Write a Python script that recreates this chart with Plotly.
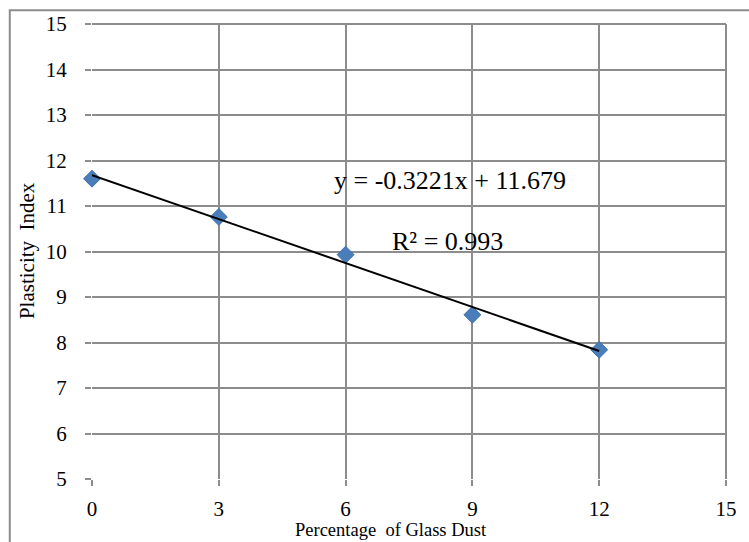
import plotly.graph_objects as go

# Plasticity index versus glass dust content
glass_dust = [0, 3, 6, 9, 12]
plasticity_index = [11.6, 10.76, 9.93, 8.61, 7.84]

# Linear trendline coefficients
slope = -0.3221
intercept = 11.679
r_squared = 0.993

x_ticks = [0, 3, 6, 9, 12, 15]
y_ticks = [5, 6, 7, 8, 9, 10, 11, 12, 13, 14, 15]

trend_x = [min(glass_dust), max(glass_dust)]
trend_y = [slope * x + intercept for x in trend_x]

FONT = "Liberation Serif, Times New Roman, serif"
GRID = "#8c8c8c"

fig = go.Figure()

fig.add_trace(go.Scatter(
    x=glass_dust, y=plasticity_index, mode="markers",
    marker=dict(symbol="diamond", size=13, color="#4a7ebb",
                line=dict(width=1, color="#3e6ea8")),
    showlegend=False, cliponaxis=False,
))

# trendline drawn above the markers
fig.add_trace(go.Scatter(
    x=trend_x, y=trend_y, mode="lines",
    line=dict(color="black", width=2),
    showlegend=False, cliponaxis=False,
))

axis_common = dict(
    showgrid=True, gridcolor=GRID, gridwidth=2,
    zeroline=False, showline=False,
    ticks="outside", ticklen=6, tickwidth=2, tickcolor=GRID,
    tickfont=dict(family=FONT, size=21, color="black"),
)

fig.update_xaxes(range=[0, 15], tickvals=x_ticks, ticklabelstandoff=5, **axis_common)
fig.update_yaxes(range=[5, 15], tickvals=y_ticks, ticklabelstandoff=14, **axis_common)

fig.update_layout(
    width=749, height=542,
    margin=dict(l=92, r=17, t=23, b=63),
    plot_bgcolor="white", paper_bgcolor="white",
    font=dict(family=FONT, color="black"),
    shapes=[
        # chart-area frame
        dict(type="rect", xref="paper", yref="paper",
             x0=-0.1297, x1=1.06, y0=-0.2, y1=1.030,
             line=dict(color="#8c8c8c", width=2), layer="below"),
        # plot-area border on top and right
        dict(type="line", xref="paper", yref="paper", x0=0, x1=1, y0=1, y1=1,
             line=dict(color=GRID, width=2)),
        dict(type="line", xref="paper", yref="paper", x0=1, x1=1, y0=0, y1=1,
             line=dict(color=GRID, width=2)),
    ],
    annotations=[
        dict(text=f"y = {slope}x + {intercept}", x=8.46, y=11.55,
             xref="x", yref="y", showarrow=False,
             xanchor="center", yanchor="middle",
             font=dict(family=FONT, size=26, color="black")),
        dict(text=f"R² = {r_squared}", x=8.4, y=10.23,
             xref="x", yref="y", showarrow=False,
             xanchor="center", yanchor="middle",
             font=dict(family=FONT, size=26, color="black")),
        dict(text="Percentage  of Glass Dust", x=(394 - 92) / 640, y=(479 - 530) / 456,
             xref="paper", yref="paper", showarrow=False,
             xanchor="center", yanchor="middle", borderpad=0,
             font=dict(family=FONT, size=18.5, color="black")),
        dict(text="Plasticity  Index", x=(26 - 92) / 640, y=(479 - 250) / 456,
             xref="paper", yref="paper", showarrow=False, textangle=-90,
             xanchor="center", yanchor="middle",
             font=dict(family=FONT, size=21, color="black")),
    ],
)

fig.write_html("out.html")
